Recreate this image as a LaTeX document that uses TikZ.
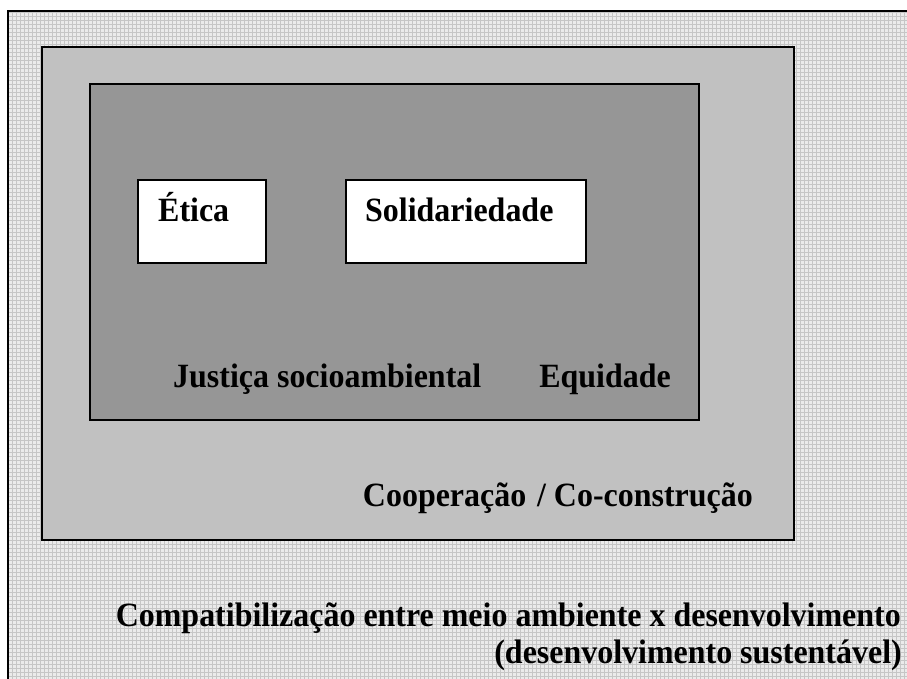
\documentclass[tikz,border=0pt]{standalone}
\usepackage{fontspec}
\setmainfont{Liberation Serif}
\newcommand{\lbltext}[1]{\scalebox{0.94}[1]{#1}}
\begin{document}
\begin{tikzpicture}[x=1pt,y=-1pt,
  box/.style={draw=black,line width=1.6pt,inner sep=0pt,anchor=north west},
  lbl/.style={font=\fontsize{34}{40}\selectfont\bfseries,inner sep=0pt,text=black},
  gridline/.style={draw=gray!45,line width=0.5pt}]
\useasboundingbox (0,0) rectangle (907,678);
\clip (0,0) rectangle (907,678);
\fill[gray!16] (8,11) rectangle (920,690);
\draw[gridline,step=4pt] (8,11) grid (920,690);
\draw[line width=1.6pt] (8,690) -- (8,11) -- (920,11);
\node[box,fill=gray!49,minimum width=752pt,minimum height=493pt] (mid) at (41,46) {};
\node[box,fill=gray!82,minimum width=609pt,minimum height=336pt] (inner) at (89,83) {};
\node[box,fill=white,minimum width=128pt,minimum height=83pt] (etica) at (137,179) {};
\node[box,fill=white,minimum width=240pt,minimum height=83pt] (solid) at (345,179) {};
\node[lbl,anchor=base west] (t1) at (158,221) {\lbltext{Ética}};
\node[lbl,anchor=base west] (t2) at (365,221) {\lbltext{Solidariedade}};
\node[lbl,anchor=base west] (t3) at (173,387) {\lbltext{Justiça socioambiental}};
\node[lbl,anchor=base east] (t4) at (671,387) {\lbltext{Equidade}};
\node[lbl,anchor=base east] (t5) at (753,506) {\lbltext{Cooperação\kern3pt{} / Co-construção}};
\node[lbl,anchor=base east] (t6) at (901,626) {\lbltext{Compatibilização entre meio ambiente x desenvolvimento}};
\node[lbl,anchor=base east] (t7) at (902,663) {\lbltext{(desenvolvimento sustentável)}};
\end{tikzpicture}
\end{document}
